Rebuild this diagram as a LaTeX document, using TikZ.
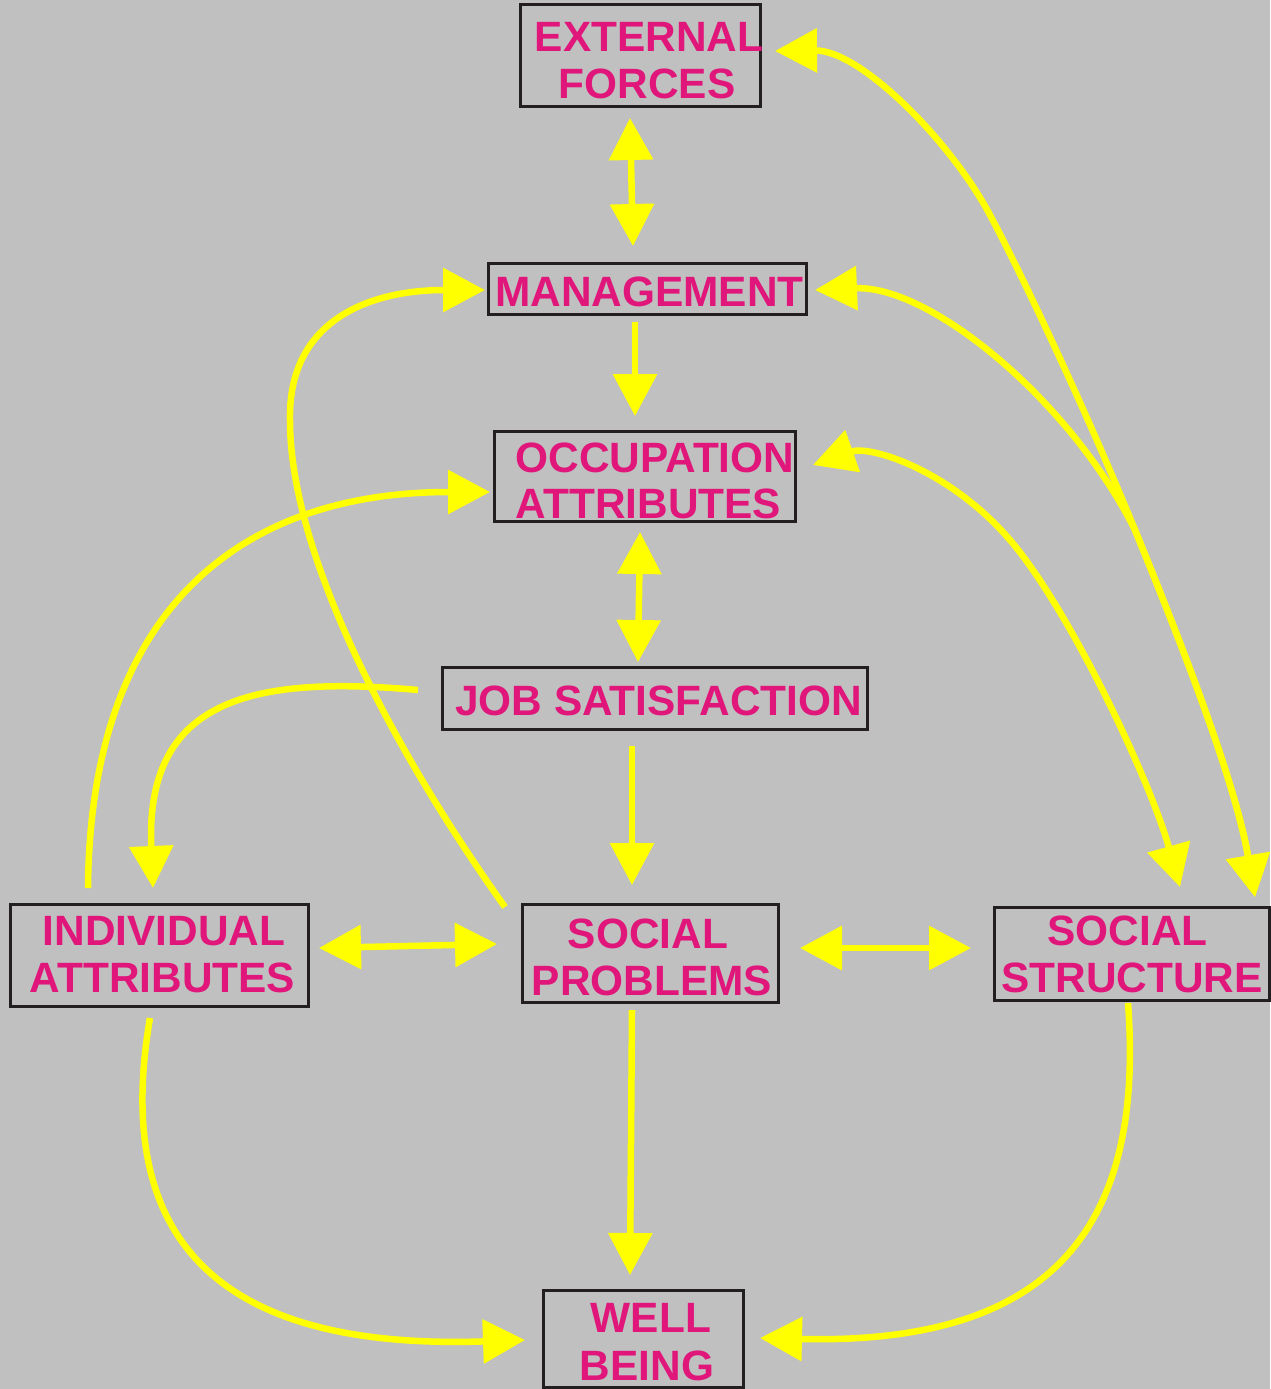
\documentclass[tikz,border=0pt]{standalone}
\usepackage{fontspec}
\setmainfont{Liberation Sans}
\usetikzlibrary{arrows.meta}
\definecolor{canvas}{HTML}{C0C0C0}
\definecolor{labelpink}{HTML}{E0167B}
\definecolor{linkyellow}{HTML}{FFFF00}
\definecolor{frame}{HTML}{231F20}
\begin{document}
\begin{tikzpicture}[x=1pt,y=-1pt,
  box/.style={draw=frame, line width=3pt, inner sep=0pt, outer sep=0pt},
  lbl/.style={anchor=base, inner sep=0pt, text=labelpink,
    font=\fontsize{42.4}{48}\selectfont\bfseries},
  link/.style={draw=linkyellow, line width=6.5pt},
  oneway/.style={-{Triangle[length=42pt,width=43pt]}},
  twoway/.style={{Triangle[length=42pt,width=43pt]}-{Triangle[length=42pt,width=43pt]}}
]
% background
\fill[canvas] (0,0) rectangle (1270,1389);
\useasboundingbox (0,0) rectangle (1270,1389);

% boxes
\node[box, minimum width=240pt, minimum height=101pt] (ef) at (640,55.5) {};
\node[box, minimum width=318pt, minimum height=51pt]  (mg) at (647,288.5) {};
\node[box, minimum width=301pt, minimum height=90pt]  (oc) at (644.5,476) {};
\node[box, minimum width=425pt, minimum height=62pt]  (js) at (654.5,698) {};
\node[box, minimum width=298pt, minimum height=102pt] (ia) at (159,955) {};
\node[box, minimum width=256pt, minimum height=98pt]  (sp) at (650,953) {};
\node[box, minimum width=275pt, minimum height=93pt]  (ss) at (1131.5,953.5) {};
\node[box, minimum width=200pt, minimum height=97pt]  (wb) at (643,1338.5) {};

% labels
\node[lbl] (ef1) at (649,52)   {EXTERNAL};
\node[lbl] (ef2) at (647,99)   {FORCES};
\node[lbl] (mg1) at (649.5,306) {MANAGEMENT};
\node[lbl] (oc1) at (655,472)  {OCCUPATION};
\node[lbl] (oc2) at (648.5,518) {ATTRIBUTES};
\node[lbl] (js1) at (658.5,715) {JOB SATISFACTION};
\node[lbl] (ia1) at (164,945)  {INDIVIDUAL};
\node[lbl] (ia2) at (162.5,992) {ATTRIBUTES};
\node[lbl] (sp1) at (648,948)  {SOCIAL};
\node[lbl] (sp2) at (652,995)  {PROBLEMS};
\node[lbl] (ss1) at (1127.5,945) {SOCIAL};
\node[lbl] (ss2) at (1132,992) {STRUCTURE};
\node[lbl] (wb1) at (651,1332) {WELL};
\node[lbl] (wb2) at (647,1380) {BEING};

% straight links
\draw[link,twoway] ([xshift=-10pt,yshift=-12pt]ef.south) -- ([xshift=-14pt,yshift=17pt]mg.north);
\draw[link,oneway] ([xshift=-12pt,yshift=-8pt]mg.south) -- ([xshift=-9.5pt,yshift=15pt]oc.north);
\draw[link,twoway] ([xshift=-4.5pt,yshift=-11pt]oc.south) -- ([xshift=-16.5pt,yshift=5pt]js.north);
\draw[link,oneway] ([xshift=-22.5pt,yshift=-17pt]js.south) -- ([xshift=-18pt,yshift=19pt]sp.north);
\draw[link,twoway] ([xshift=11pt,yshift=7pt]ia.east) -- ([xshift=-25pt,yshift=9pt]sp.west);
\draw[link,twoway] ([xshift=22pt,yshift=5pt]sp.east) -- ([xshift=-23pt,yshift=5.5pt]ss.west);
\draw[link,oneway] ([xshift=-18pt,yshift=-8pt]sp.south) -- ([xshift=-13pt,yshift=15pt]wb.north);

% curved links, bottom
\draw[link,oneway] ([xshift=-9pt,yshift=-12pt]ia.south)
  .. controls (110,1250) and (230,1350) .. ([xshift=-18pt,yshift=-1.5pt]wb.west);
\draw[link,oneway] ([xshift=-3.5pt,yshift=-3pt]ss.south)
  .. controls (1145,1230) and (1050,1345) .. ([xshift=17pt,yshift=0.5pt]wb.east);

% curved links, left
\draw[link,oneway] ([xshift=-24pt,yshift=8pt]js.west)
  .. controls (250,675) and (145,700) .. ([xshift=-6pt,yshift=16pt]ia.north);
\draw[link,oneway] ([xshift=-71pt,yshift=16pt]ia.north)
  .. controls (90,620) and (230,492) .. ([xshift=-4pt,yshift=-16pt]oc.west);
\draw[link,oneway] ([xshift=-17pt,yshift=-3pt]sp.north west)
  .. controls (400,760) and (290,560) .. (290,420)
  .. controls (288,320) and (370,290) .. ([xshift=-3pt,yshift=-1.5pt]mg.west);

% curved links, right
\coordinate (merge) at (1135,530);
\draw[link,twoway] ([xshift=15pt,yshift=4.5pt]ef.east)
  .. controls (860,50) and (950,140) .. (990,215)
  .. controls (1030,290) and (1095,432) .. (merge)
  .. controls (1180,640) and (1235,780) .. ([xshift=123.5pt,yshift=10pt]ss.north);
\draw[link,twoway] ([xshift=9pt,yshift=-1.5pt]mg.east)
  .. controls (930,285) and (1070,400) .. (merge)
  .. controls (1180,640) and (1235,780) .. ([xshift=123.5pt,yshift=10pt]ss.north);
\draw[link,twoway] ([xshift=18pt,yshift=11pt]oc.east)
  .. controls (870,445) and (950,470) .. (1010,540)
  .. controls (1070,610) and (1150,780) .. ([xshift=48.5pt,yshift=20pt]ss.north);
\end{tikzpicture}
\end{document}
